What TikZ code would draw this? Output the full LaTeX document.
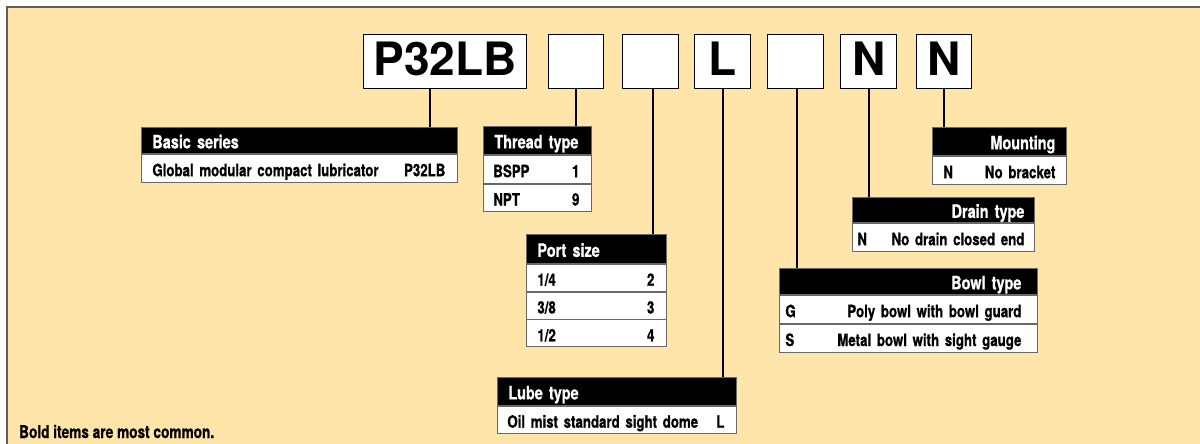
\documentclass[tikz,border=0pt]{standalone}
\usepackage{fontspec}
\setmainfont{TeX Gyre Heros}
\newfontfamily\condbf{TeX Gyre Heros}[FakeStretch=0.78,FakeBold=0.8]
\definecolor{panel}{RGB}{255,229,169}
\definecolor{tblgray}{RGB}{105,105,105}
\definecolor{framegray}{RGB}{95,95,95}
\newcommand{\tblfont}{\condbf\bfseries\fontsize{17}{19}\selectfont}
\newcommand{\hdrfont}{\condbf\bfseries\fontsize{18.5}{20}\selectfont}
\begin{document}
\begin{tikzpicture}[x=1pt,y=-1pt,
  cell/.style={draw=tblgray, line width=0.8pt, inner sep=0pt, anchor=north west,
    text width=#1, text height=17pt, text depth=1pt, font=\tblfont},
  hdr/.style={cell=#1, fill=black, text=white, font=\hdrfont},
  rowc/.style={cell=#1, fill=white, text=black},
  codebox/.style={draw=black, line width=1.4pt, fill=white, inner sep=0pt,
    anchor=north west, minimum height=54pt, text height=33pt, text depth=5pt,
    font=\fontsize{46}{46}\selectfont\bfseries},
  link/.style={draw=black, line width=1.6pt}
]
\useasboundingbox (0,0) rectangle (1200,444);
\fill[panel] (7,7) rectangle (1200,444);
\draw[framegray, line width=1.5pt] (7,444) -- (7,7) -- (1200,7);

% code boxes
\node[codebox, minimum width=163pt] (bP) at (363,34) {P32LB};
\node[codebox, minimum width=55pt] (b2) at (548,34) {};
\node[codebox, minimum width=56pt] (b3) at (622,34) {};
\node[codebox, minimum width=56pt] (bL) at (694,34) {L};
\node[codebox, minimum width=56pt] (b5) at (767,34) {};
\node[codebox, minimum width=56pt] (bN1) at (840,34) {N};
\node[codebox, minimum width=55pt] (bN2) at (916,34) {N};

% Basic series
\node[hdr=316pt, minimum height=26pt] (basicH) at (141,127) {\noindent\hspace*{11pt}Basic series};
\node[rowc=316pt, minimum height=28pt] (basicR) at (basicH.south west) {\noindent\hspace*{11pt}Global modular compact lubricator\hfill P32LB\hspace*{12pt}};

% Thread type
\node[hdr=108pt, minimum height=28pt] (threadH) at (483,126) {\noindent\hspace*{11pt}Thread type};
\node[rowc=108pt, minimum height=28pt] (threadR1) at (threadH.south west) {\noindent\hspace*{10pt}BSPP\hfill 1\hspace*{12pt}};
\node[rowc=108pt, minimum height=27pt] (threadR2) at (threadR1.south west) {\noindent\hspace*{10pt}NPT\hfill 9\hspace*{12pt}};

% Port size
\node[hdr=140pt, minimum height=29pt] (portH) at (526,234) {\noindent\hspace*{11pt}Port size};
\node[rowc=140pt, minimum height=27pt] (portR1) at (portH.south west) {\noindent\hspace*{11pt}1/4\hfill 2\hspace*{12pt}};
\node[rowc=140pt, minimum height=27pt] (portR2) at (portR1.south west) {\noindent\hspace*{11pt}3/8\hfill 3\hspace*{12pt}};
\node[rowc=140pt, minimum height=27pt] (portR3) at (portR2.south west) {\noindent\hspace*{11pt}1/2\hfill 4\hspace*{12pt}};

% Lube type
\node[hdr=239pt, minimum height=28pt] (lubeH) at (497,377) {\noindent\hspace*{11pt}Lube type};
\node[rowc=239pt, minimum height=27pt] (lubeR) at (lubeH.south west) {\noindent\hspace*{10pt}Oil mist standard sight dome\hfill L\hspace*{12pt}};

% Bowl type
\node[hdr=258pt, minimum height=26pt] (bowlH) at (779,268) {\noindent\hfill Bowl type\hspace*{16pt}};
\node[rowc=258pt, minimum height=28pt] (bowlR1) at (bowlH.south west) {\noindent\hspace*{6pt}G\hfill Poly bowl with bowl guard\hspace*{16pt}};
\node[rowc=258pt, minimum height=28pt] (bowlR2) at (bowlR1.south west) {\noindent\hspace*{6pt}S\hfill Metal bowl with sight gauge\hspace*{16pt}};

% Drain type
\node[hdr=182pt, minimum height=25pt] (drainH) at (852,197) {\noindent\hfill Drain type\hspace*{10pt}};
\node[rowc=182pt, minimum height=28pt] (drainR) at (drainH.south west) {\noindent\hspace*{5pt}N\hfill No drain closed end\hspace*{10pt}};

% Mounting
\node[hdr=134pt, minimum height=28pt] (mountH) at (932,127) {\noindent\hfill Mounting\hspace*{11pt}};
\node[rowc=134pt, minimum height=28pt] (mountR) at (mountH.south west) {\noindent\hspace*{11pt}N\hfill No bracket\hspace*{11pt}};

% connectors
\draw[link] ([xshift=-15.5pt]bP.south) -- ([xshift=-15.5pt]bP.south |- basicH.north);
\draw[link] (b2.south) -- (b2.south |- threadH.north);
\draw[link] ([xshift=2pt]b3.south) -- ([xshift=2pt]b3.south |- portH.north);
\draw[link] (bL.south) -- (bL.south |- lubeH.north);
\draw[link] ([xshift=1pt]b5.south) -- ([xshift=1pt]b5.south |- bowlH.north);
\draw[link] (bN1.south) -- (bN1.south |- drainH.north);
\draw[link] (bN2.south) -- (bN2.south |- mountH.north);

% note
\node[anchor=base west, inner sep=0pt, font=\condbf\bfseries\fontsize{17.5}{19}\selectfont] (note) at (19,438) {Bold items are most common.};
\end{tikzpicture}
\end{document}
